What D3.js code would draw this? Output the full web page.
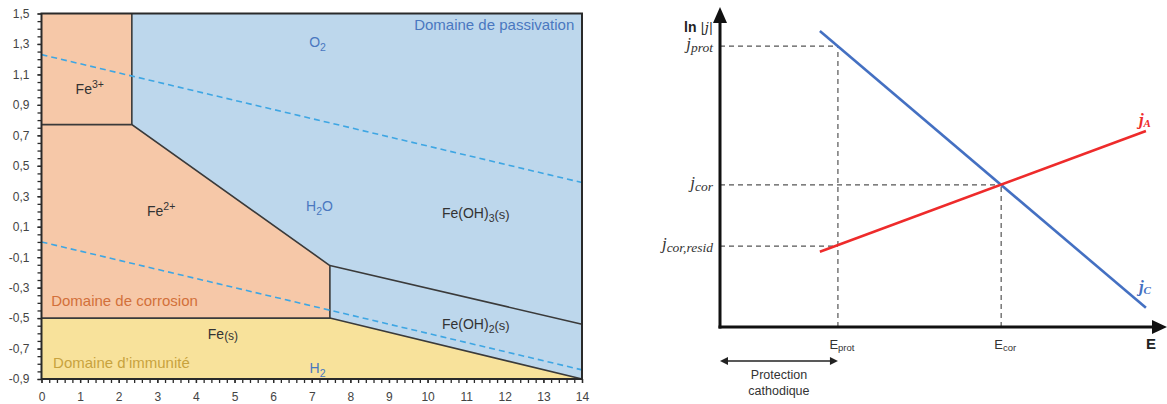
<!DOCTYPE html>
<html><head><meta charset="utf-8">
<script src="https://cdn.jsdelivr.net/npm/d3@7"></script>
<style>body{margin:0;background:#fff}svg{display:block}text{font-family:"Liberation Sans",Arial,sans-serif}</style>
</head><body><svg id="c" width="1167" height="404"></svg>
<script>
// ---------- Pourbaix diagram data (pH, E in V) ----------
const pHTicks = [0,1,2,3,4,5,6,7,8,9,10,11,12,13,14];
const eTicks = [1.5,1.3,1.1,0.9,0.7,0.5,0.3,0.1,-0.1,-0.3,-0.5,-0.7,-0.9];
const fe3Region = [[0,1.5],[2.34,1.5],[2.34,0.77],[0,0.77]];
const fe2Region = [[0,0.77],[2.34,0.77],[7.47,-0.155],[7.47,-0.5],[0,-0.5]];
const feRegion = [[0,-0.5],[7.47,-0.5],[14,-0.9],[0,-0.9]];
const boundaries = [
  [[2.34,1.5],[2.34,0.77]],
  [[0,0.77],[2.34,0.77],[7.47,-0.155],[7.47,-0.5]],
  [[0,-0.5],[7.47,-0.5],[14,-0.9]],
  [[7.47,-0.155],[14,-0.54]]
];
const waterO2 = [[0,1.23],[14,0.39]];
const waterH2 = [[0,0],[14,-0.84]];
const speciesLabels = [
  {t:"Fe", s:"3+", pH:1.25, E:0.97, c:"#333"},
  {t:"Fe", s:"2+", pH:3.1, E:0.17, c:"#333"},
  {t:"Fe", s:"(s)", pH:4.7, E:-0.64, c:"#333"},
  {t:"Fe(OH)", s:"3", s2:"(s)", pH:11.25, E:0.16, c:"#333"},
  {t:"Fe(OH)", s:"2", s2:"(s)", pH:11.25, E:-0.57, c:"#333"},
  {t:"O", s:"2", pH:7.15, E:1.28, c:"#4a78c0"},
  {t:"H", s:"2", s2:"O", pH:7.2, E:0.2, c:"#4a78c0"},
  {t:"H", s:"2", pH:7.15, E:-0.86, c:"#4a78c0"}
];
const domainLabels = [
  {t:"Domaine de passivation", pH:13.8, E:1.39, c:"#4a78c0", anchor:"end"},
  {t:"Domaine de corrosion", pH:0.25, E:-0.42, c:"#d2703a", anchor:"start"},
  {t:"Domaine d\u2019immunit\u00e9", pH:0.3, E:-0.83, c:"#c8a23e", anchor:"start"}
];

// ---------- Evans diagram data (arbitrary units) ----------
const jCLine = [[22.7,92.5],[96.8,6.0]];
const jALine = [[22.7,23.5],[96.8,61.25]];
const Eprot = 26.8, Ecor = 63.9;
const jLevels = [{name:"prot", v:87.8, E:26.8},{name:"cor", v:44.4, E:63.9},{name:"cor,resid", v:25.3, E:26.8}];

const svg = d3.select("#c");

// ===== Left chart =====
const x = d3.scaleLinear().domain([0,14]).range([41.5,582]);
const y = d3.scaleLinear().domain([-0.9,1.5]).range([379,13.5]);
const line = d3.line().x(d=>x(d[0])).y(d=>y(d[1]));
const L = svg.append("g");
L.append("rect").attr("x",x(0)).attr("y",y(1.5)).attr("width",x(14)-x(0)).attr("height",y(-0.9)-y(1.5)).attr("fill","#bdd7ec");
L.append("path").attr("d",line(fe3Region)+"Z").attr("fill","#f6c8a8");
L.append("path").attr("d",line(fe2Region)+"Z").attr("fill","#f6c8a8");
L.append("path").attr("d",line(feRegion)+"Z").attr("fill","#f8e29b");
boundaries.forEach(b=>L.append("path").attr("d",line(b)).attr("fill","none").attr("stroke","#3a3a3a").attr("stroke-width",1.6));
[waterO2,waterH2].forEach(w=>L.append("path").attr("d",line(w)).attr("fill","none").attr("stroke","#3ea6e3").attr("stroke-width",1.6).attr("stroke-dasharray","6,4"));
L.append("rect").attr("x",x(0)).attr("y",y(1.5)).attr("width",x(14)-x(0)).attr("height",y(-0.9)-y(1.5)).attr("fill","none").attr("stroke","#2a2a2a").attr("stroke-width",2);

// axes
const yAx = L.append("g").attr("transform",`translate(${x(0)},0)`)
  .call(d3.axisLeft(y).tickValues(eTicks).tickSize(4).tickPadding(8).tickFormat(d=>d.toFixed(1).replace(".",",")));
const yMinor = L.append("g").attr("transform",`translate(${x(0)},0)`)
  .call(d3.axisLeft(y).tickValues(d3.range(-0.9,1.5001,0.05)).tickSize(4).tickFormat(""));
const xAx = L.append("g").attr("transform",`translate(0,${y(-0.9)})`)
  .call(d3.axisBottom(x).tickValues(pHTicks).tickSize(4).tickPadding(9).tickFormat(d3.format("d")));
const xMinor = L.append("g").attr("transform",`translate(0,${y(-0.9)})`)
  .call(d3.axisBottom(x).tickValues(d3.range(0,14.001,0.2)).tickSize(4).tickFormat(""));
[yAx,yMinor,xAx,xMinor].forEach(a=>{a.select(".domain").remove();a.selectAll("line").attr("stroke","#2a2a2a").attr("stroke-width",1.3);a.selectAll("text").attr("fill","#444").style("font-size","12px").style("font-family","Liberation Sans, Arial");});

// labels
speciesLabels.forEach(l=>{
  const t = L.append("text").attr("x",x(l.pH)).attr("y",y(l.E)).attr("text-anchor","middle").attr("fill",l.c).style("font-size","14px");
  t.append("tspan").text(l.t);
  if(l.s==="3+"||l.s==="2+"){
    t.append("tspan").attr("dy",-6).style("font-size","10.5px").text(l.s);
  } else if(l.s==="(s)"){
    t.append("tspan").attr("dy",1).style("font-size","12px").text(l.s);
  } else {
    t.append("tspan").attr("dy",4).style("font-size","10.5px").text(l.s);
    if(l.s2==="(s)") t.append("tspan").attr("dy",-3).style("font-size","13px").text(l.s2);
    else if(l.s2) t.append("tspan").attr("dy",-4).style("font-size","14px").text(l.s2);
  }
});
domainLabels.forEach(l=>L.append("text").attr("x",x(l.pH)).attr("y",y(l.E)).attr("text-anchor",l.anchor).attr("fill",l.c).style("font-size","15px").text(l.t));

// ===== Right chart =====
const ex = d3.scaleLinear().domain([0,100]).range([720,1160]);
const ey = d3.scaleLinear().domain([0,100]).range([327,7]);
const eline = d3.line().x(d=>ex(d[0])).y(d=>ey(d[1]));
const R = svg.append("g");
// dashed guides
jLevels.forEach(j=>{
  R.append("path").attr("d",eline([[0,j.v],[j.E,j.v]])).attr("stroke","#555").attr("stroke-width",1.2).attr("stroke-dasharray","5,4").attr("fill","none");
});
[[Eprot,87.8],[Ecor,44.4]].forEach(p=>R.append("path").attr("d",eline([[p[0],0],[p[0],p[1]]])).attr("stroke","#555").attr("stroke-width",1.2).attr("stroke-dasharray","5,4").attr("fill","none"));
// curves
R.append("path").attr("d",eline(jCLine)).attr("stroke","#4470c2").attr("stroke-width",2.6).attr("fill","none");
R.append("path").attr("d",eline(jALine)).attr("stroke","#ee2b2b").attr("stroke-width",2.6).attr("fill","none");
// axes
R.append("line").attr("x1",ex(0)).attr("y1",ey(0)+1.5).attr("x2",ex(0)).attr("y2",ey(100)+12).attr("stroke","#111").attr("stroke-width",3);
R.append("path").attr("d",`M${ex(0)},${ey(100)} L${ex(0)-7},${ey(100)+16} L${ex(0)+7},${ey(100)+16}Z`).attr("fill","#111");
R.append("line").attr("x1",ex(0)-1.5).attr("y1",ey(0)).attr("x2",1156).attr("y2",ey(0)).attr("stroke","#111").attr("stroke-width",3);
R.append("path").attr("d",`M1167,${ey(0)} L1152,${ey(0)-7} L1152,${ey(0)+7}Z`).attr("fill","#111");
// axis labels
const lnT = R.append("text").attr("x",684).attr("y",ey(100)+25).attr("fill","#222").style("font-size","14px");
lnT.append("tspan").style("font-weight","bold").text("ln ");
lnT.append("tspan").style("font-family","DejaVu Serif, serif").style("font-style","italic").style("font-size","13px").text("|j|");
R.append("text").attr("x",1151).attr("y",349).attr("text-anchor","middle").style("font-size","15px").style("font-weight","bold").attr("fill","#222").text("E");
// j labels
jLevels.forEach(j=>{
  const t = R.append("text").attr("x",713).attr("y",ey(j.v)+3).attr("text-anchor","end").attr("fill","#333").style("font-family","Liberation Serif, serif").style("font-style","italic");
  t.append("tspan").style("font-size","17px").text("j");
  t.append("tspan").attr("dy",3).style("font-size","13.5px").text(j.name);
});
// E labels
[[Eprot,"prot"],[Ecor,"cor"]].forEach(e=>{
  const t = R.append("text").attr("x",ex(e[0])+4).attr("y",349).attr("text-anchor","middle").attr("fill","#333").style("font-size","13px");
  t.append("tspan").text("E");
  t.append("tspan").attr("dy",2).style("font-size","9.5px").text(e[1]);
});
// curve labels
[["A",jALine,"#ee2b2b",-6],["C",jCLine,"#4470c2",-16]].forEach(c=>{
  const p = c[1][1];
  const t = R.append("text").attr("x",ex(p[0])-1).attr("y",ey(p[1])+c[3]).attr("text-anchor","middle").attr("fill",c[2]).style("font-family","Liberation Serif, serif").style("font-style","italic").style("font-weight","bold");
  t.append("tspan").style("font-size","17px").text("j");
  t.append("tspan").attr("dy",2).style("font-size","11px").text(c[0]);
});
// protection arrow
const ay = 361;
R.append("line").attr("x1",ex(0)+6).attr("y1",ay).attr("x2",ex(Eprot)-6).attr("y2",ay).attr("stroke","#222").attr("stroke-width",1.4);
R.append("path").attr("d",`M${ex(0)},${ay} L${ex(0)+8},${ay-4} L${ex(0)+8},${ay+4}Z`).attr("fill","#222");
R.append("path").attr("d",`M${ex(Eprot)},${ay} L${ex(Eprot)-8},${ay-4} L${ex(Eprot)-8},${ay+4}Z`).attr("fill","#222");
R.append("text").attr("x",(ex(0)+ex(Eprot))/2).attr("y",379).attr("text-anchor","middle").attr("fill","#333").style("font-size","12.5px").text("Protection");
R.append("text").attr("x",(ex(0)+ex(Eprot))/2).attr("y",395).attr("text-anchor","middle").attr("fill","#333").style("font-size","12.5px").text("cathodique");
</script></body></html>
